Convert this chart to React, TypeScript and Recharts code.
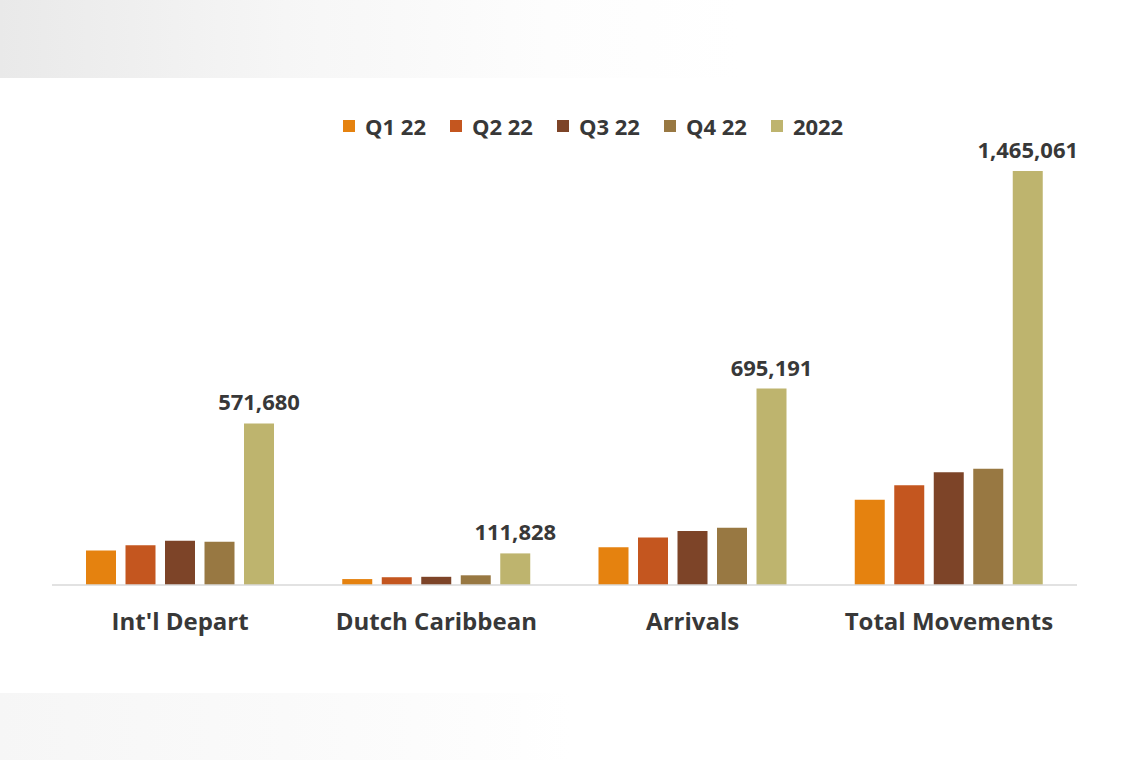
import {Bar, BarChart, LabelList, Legend, XAxis, YAxis} from 'recharts'

// passenger movements per quarter
const categories = ["Int'l Depart", 'Dutch Caribbean', 'Arrivals', 'Total Movements']
const q1 = [122000, 21000, 134000, 302000]
const q2 = [140500, 27500, 168000, 353000]
const q3 = [156400, 29000, 191000, 399000]
const q4 = [152780, 34328, 202191, 411061]
const full = [571680, 111828, 695191, 1465061]

const seriesNames = ['Q1 22', 'Q2 22', 'Q3 22', 'Q4 22', '2022']
const colors = ['#E5820F', '#C4561F', '#7D4428', '#987842', '#BEB46E']

const data = categories.map((c, i) => ({
	name: c,
	q1: q1[i],
	q2: q2[i],
	q3: q3[i],
	q4: q4[i],
	full: full[i],
}))

const font = '"Open Sans", "DejaVu Sans", sans-serif'
const ink = '#383838'

function CategoryTick({x, y, payload}: any) {
	return (
		<text x={x} y={y + 45} textAnchor='middle' fontFamily={font} fontSize={24} fontWeight={700} fill={ink}>
			{payload.value}
		</text>
	)
}

function LegendRow() {
	return (
		<div style={{display: 'flex', alignItems: 'center', fontFamily: font, fontSize: 22, fontWeight: 700, color: ink}}>
			{seriesNames.map((n, i) => (
				<div key={n} style={{display: 'flex', alignItems: 'center', marginRight: 24}}>
					<span style={{width: 12, height: 12, background: colors[i], marginRight: 10, display: 'inline-block'}} />
					<span>{n}</span>
				</div>
			))}
		</div>
	)
}

export default function App() {
	return (
		<div style={{position: 'absolute', left: 0, top: 0, width: 1140, height: 760, background: '#fff', overflow: 'hidden'}}>
			<div
				style={{
					position: 'absolute',
					left: 0,
					top: 0,
					width: 1140,
					height: 78,
					background: 'linear-gradient(to right, #e9e9e9 0%, #f6f6f6 25%, #fdfdfd 48%, #ffffff 65%)',
				}}
			/>
			<div
				style={{
					position: 'absolute',
					left: 0,
					top: 693,
					width: 1140,
					height: 67,
					background: 'linear-gradient(to right, #f6f6f6 0%, #fafafa 25%, #fdfdfd 42%, #ffffff 50%)',
				}}
			/>
			<div style={{position: 'absolute', left: 0, top: 0}}>
				<BarChart width={1140} height={760} data={data} margin={{top: 171, right: 63, left: 52, bottom: 115}} barSize={30} barGap={9.5}>
					<XAxis
						dataKey='name'
						height={60}
						axisLine={{stroke: '#d9d9d9', strokeWidth: 1.5}}
						tickLine={false}
						tickSize={0}
						tickMargin={0}
						interval={0}
						tick={<CategoryTick />}
					/>
					<YAxis hide domain={[0, 1465061]} />
					<Legend
						layout='horizontal'
						verticalAlign='middle'
						align='center'
						content={<LegendRow />}
						wrapperStyle={{position: 'absolute', top: 111, left: 343, width: 'auto'}}
					/>
					<Bar dataKey='q1' name='Q1 22' fill={colors[0]} isAnimationActive={false} />
					<Bar dataKey='q2' name='Q2 22' fill={colors[1]} isAnimationActive={false} />
					<Bar dataKey='q3' name='Q3 22' fill={colors[2]} isAnimationActive={false} />
					<Bar dataKey='q4' name='Q4 22' fill={colors[3]} isAnimationActive={false} />
					<Bar dataKey='full' name='2022' fill={colors[4]} isAnimationActive={false}>
						<LabelList
							dataKey='full'
							position='top'
							offset={13}
							formatter={(v: any) => Number(v).toLocaleString('en-US')}
							style={{fontFamily: font, fontSize: 22, fontWeight: 700, fill: ink}}
						/>
					</Bar>
				</BarChart>
			</div>
		</div>
	)
}
